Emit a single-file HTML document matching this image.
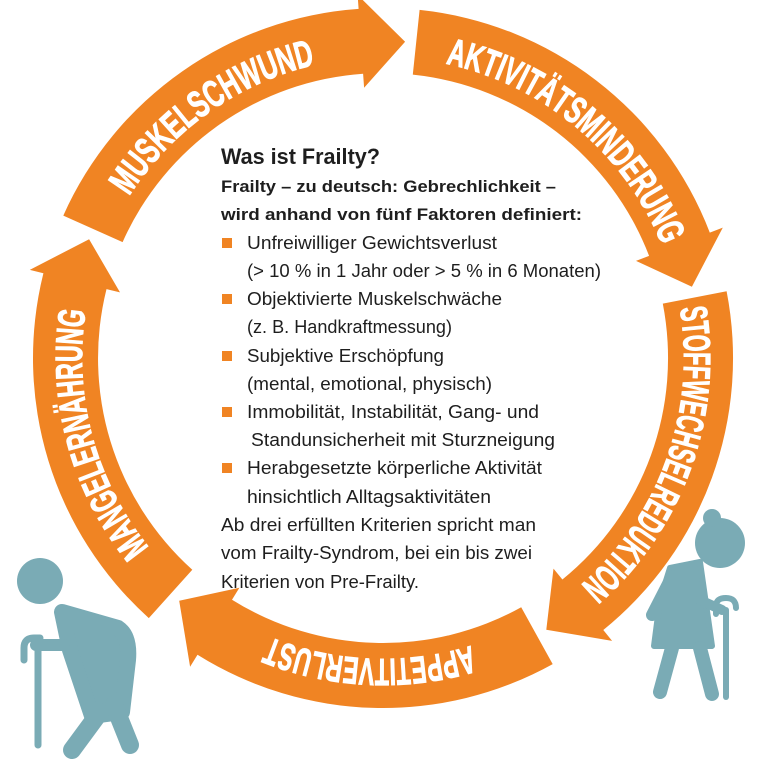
<!DOCTYPE html>
<html><head><meta charset="utf-8">
<style>
html,body{margin:0;padding:0;background:#fff;}
svg{display:block;}
.b{font-family:"Liberation Sans",sans-serif;font-weight:bold;fill:#1e1e1e;}
.t{font-family:"Liberation Sans",sans-serif;fill:#1e1e1e;font-size:18px;}
.r{font-family:"Liberation Sans",sans-serif;font-weight:bold;fill:#fff;stroke:#fff;stroke-width:1;font-size:38px;}
</style></head>
<body>
<svg id="s" width="758" height="768" viewBox="0 0 758 768" xmlns="http://www.w3.org/2000/svg">
<g id="ring" fill="#f08423"></g>
<defs id="defs"></defs>
<g id="labels"></g>

<text class="b" x="221" y="164" font-size="22" textLength="159" lengthAdjust="spacingAndGlyphs">Was ist Frailty?</text>
<text class="b" x="221" y="192" font-size="17" textLength="335" lengthAdjust="spacingAndGlyphs">Frailty – zu deutsch: Gebrechlichkeit –</text>
<text class="b" x="221" y="220" font-size="17" textLength="361" lengthAdjust="spacingAndGlyphs">wird anhand von fünf Faktoren definiert:</text>
<g fill="#f08423">
<rect x="222" y="238" width="10" height="10"/>
<rect x="222" y="294" width="10" height="10"/>
<rect x="222" y="351" width="10" height="10"/>
<rect x="222" y="407" width="10" height="10"/>
<rect x="222" y="463" width="10" height="10"/>
</g>
<text class="t" x="247" y="249" textLength="250" lengthAdjust="spacingAndGlyphs">Unfreiwilliger Gewichtsverlust</text>
<text class="t" x="247" y="277" textLength="354" lengthAdjust="spacingAndGlyphs">(&gt; 10 % in 1 Jahr oder &gt; 5 % in 6 Monaten)</text>
<text class="t" x="247" y="305" textLength="255" lengthAdjust="spacingAndGlyphs">Objektivierte Muskelschwäche</text>
<text class="t" x="247" y="333" textLength="205" lengthAdjust="spacingAndGlyphs">(z. B. Handkraftmessung)</text>
<text class="t" x="247" y="362" textLength="197" lengthAdjust="spacingAndGlyphs">Subjektive Erschöpfung</text>
<text class="t" x="247" y="390" textLength="245" lengthAdjust="spacingAndGlyphs">(mental, emotional, physisch)</text>
<text class="t" x="247" y="418" textLength="292" lengthAdjust="spacingAndGlyphs">Immobilität, Instabilität, Gang- und</text>
<text class="t" x="251" y="446" textLength="304" lengthAdjust="spacingAndGlyphs">Standunsicherheit mit Sturzneigung</text>
<text class="t" x="247" y="474" textLength="295" lengthAdjust="spacingAndGlyphs">Herabgesetzte körperliche Aktivität</text>
<text class="t" x="247" y="503" textLength="244" lengthAdjust="spacingAndGlyphs">hinsichtlich Alltagsaktivitäten</text>
<text class="t" x="221" y="531" textLength="315" lengthAdjust="spacingAndGlyphs">Ab drei erfüllten Kriterien spricht man</text>
<text class="t" x="221" y="559" textLength="311" lengthAdjust="spacingAndGlyphs">vom Frailty-Syndrom, bei ein bis zwei</text>
<text class="t" x="221" y="588" textLength="198" lengthAdjust="spacingAndGlyphs">Kriterien von Pre-Frailty.</text>

<!-- left man -->
<g fill="#7aabb5" stroke="#7aabb5" stroke-linecap="round" stroke-linejoin="round">
<circle cx="40" cy="581" r="23" stroke="none"/>
<path d="M62 612 L118 628 Q130 636 128 660 L122 712 L92 716 L70 650 Z" stroke-width="16"/>
<line x1="100" y1="712" x2="72" y2="750" stroke-width="18"/>
<line x1="114" y1="705" x2="130" y2="745" stroke-width="18"/>
<line x1="36" y1="645" x2="64" y2="645" stroke-width="12"/>
<line x1="38" y1="650" x2="38" y2="745" stroke-width="7"/>
<path d="M24 660 L24 648 Q24 638 34 638 L40 638" stroke-width="7" fill="none"/>
</g>

<!-- right woman -->
<g fill="#7aabb5" stroke="#7aabb5" stroke-linecap="round" stroke-linejoin="round">
<circle cx="720" cy="543" r="25" stroke="none"/>
<circle cx="712" cy="518" r="9" stroke="none"/>
<path d="M670 568 L700 562 L712 646 L654 646 L660 600 Z" stroke-width="6"/>
<line x1="672" y1="576" x2="652" y2="615" stroke-width="12"/>
<line x1="700" y1="600" x2="722" y2="610" stroke-width="10"/>
<line x1="672" y1="648" x2="660" y2="692" stroke-width="14"/>
<line x1="700" y1="648" x2="712" y2="694" stroke-width="14"/>
<line x1="726" y1="610" x2="726" y2="697" stroke-width="6"/>
<path d="M716 614 L716 606 Q716 598 726 598 Q736 598 736 608" stroke-width="6" fill="none"/>
</g>
</svg>
<script>
(function(){
var NS="http://www.w3.org/2000/svg";
var cx=383,cy=358,Ro=350,Ri=285,Rm=317;
function P(r,a){a=a*Math.PI/180;return (cx+r*Math.sin(a)).toFixed(1)+" "+(cy-r*Math.cos(a)).toFixed(1);}
var tips=[4,77,149,220,292];
var ring=document.getElementById("ring");
for(var i=0;i<5;i++){
  var tip=tips[i], prev=tips[(i+4)%5]; if(prev>tip)prev-=360;
  var t0=prev+2, hb=tip-8;
  var d="M"+P(Ro,t0)+" A"+Ro+" "+Ro+" 0 0 1 "+P(Ro,hb)+" L"+P(Ro+14,hb)+" L"+P(Rm,tip)+" L"+P(Ri-14,hb)+" L"+P(Ri,hb)+" A"+Ri+" "+Ri+" 0 0 0 "+P(Ri,t0)+" Z";
  var p=document.createElementNS(NS,"path");p.setAttribute("d",d);ring.appendChild(p);
}
var labels=[["MUSKELSCHWUND",-57.5,-13],["AKTIVITÄTSMINDERUNG",12,68],["STOFFWECHSELREDUKTION",80.5,139],["APPETITVERLUST",163,202],["MANGELERNÄHRUNG",231,279]];
var defs=document.getElementById("defs"),lg=document.getElementById("labels");
var rb=301;
labels.forEach(function(l,k){
  var pth=document.createElementNS(NS,"path");
  pth.setAttribute("id","lp"+k);
  pth.setAttribute("d","M"+P(rb,l[1])+" A"+rb+" "+rb+" 0 0 1 "+P(rb,l[2]));
  defs.appendChild(pth);
  var t=document.createElementNS(NS,"text");t.setAttribute("class","r");
  var tp=document.createElementNS(NS,"textPath");
  tp.setAttribute("href","#lp"+k);
  tp.setAttributeNS("http://www.w3.org/1999/xlink","xlink:href","#lp"+k);
  tp.setAttribute("textLength",(rb*(l[2]-l[1])*Math.PI/180).toFixed(1));
  tp.setAttribute("lengthAdjust","spacingAndGlyphs");
  tp.textContent=l[0];
  t.appendChild(tp);lg.appendChild(t);
});
})();
</script>
</body></html>
